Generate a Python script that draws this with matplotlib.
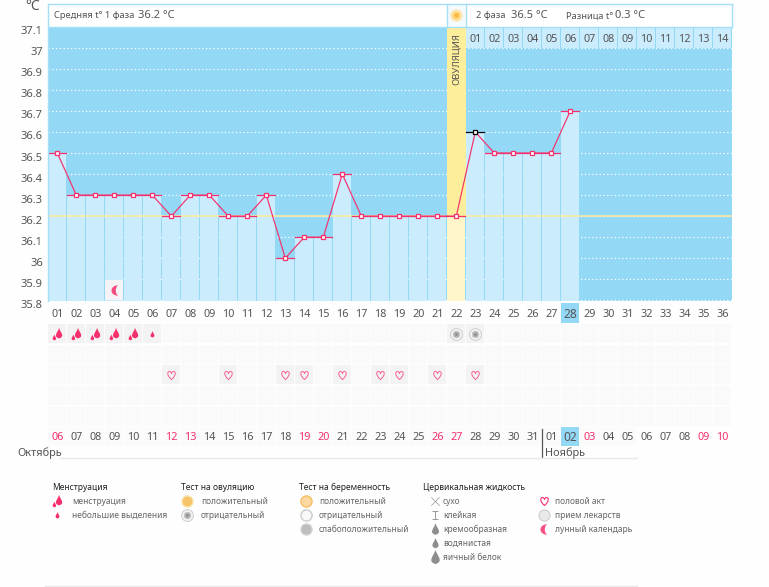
import matplotlib
matplotlib.use('Agg')
import matplotlib.pyplot as plt
from matplotlib.path import Path

plt.rcParams['font.family'] = ['Noto Sans', 'DejaVu Sans']

W, H = 769, 587

# chart data
days = list(range(1, 37))
temps = [36.5, 36.3, 36.3, 36.3, 36.3, 36.3, 36.2, 36.3, 36.3, 36.2,
         36.2, 36.3, 36.0, 36.1, 36.1, 36.4, 36.2, 36.2, 36.2, 36.2,
         36.2, 36.2, 36.6, 36.5, 36.5, 36.5, 36.5, 36.7]
y_ticks = [35.8, 35.9, 36, 36.1, 36.2, 36.3, 36.4, 36.5, 36.6, 36.7, 36.8, 36.9, 37, 37.1]
y_labels = ['35.8', '35.9', '36', '36.1', '36.2', '36.3', '36.4', '36.5', '36.6', '36.7',
            '36.8', '36.9', '37', '37.1']
mean_line = 36.2
ovulation_day = 22
black_day = 23
today = 28
phase2_days = ['01', '02', '03', '04', '05', '06', '07', '08', '09', '10', '11', '12', '13', '14']

dates = ['06', '07', '08', '09', '10', '11', '12', '13', '14', '15', '16', '17', '18', '19', '20',
         '21', '22', '23', '24', '25', '26', '27', '28', '29', '30', '31', '01', '02', '03', '04',
         '05', '06', '07', '08', '09', '10']
red_dates = [1, 7, 8, 14, 15, 21, 22, 29, 35, 36]

big_drop_days = [1, 2, 3, 4, 5]
small_drop_days = [6]
test_days = [22, 23]
heart_days = [7, 10, 13, 14, 16, 18, 19, 21, 23]
moon_days = [4]

BLUE = '#93d8f5'
LIGHT = '#cbecfd'
PINK = '#f5306c'
GREY = '#555555'
YEL = '#fdee9b'
PALEYEL = '#fff6c9'


def pixel_axes(left, top, right, bottom):
    ax = fig.add_axes([left / W, 1 - bottom / H, (right - left) / W, (bottom - top) / H])
    ax.set_xticks([])
    ax.set_yticks([])
    for s in ax.spines.values():
        s.set_visible(False)
    ax.patch.set_alpha(0)
    return ax


def drop(cx=0, cy=0, s=1):
    return [(cx, cy + s), (cx + 0.15 * s, cy + 0.45 * s), (cx + 0.55 * s, cy + 0.1 * s),
            (cx + 0.55 * s, cy - 0.35 * s), (cx + 0.55 * s, cy - 0.75 * s), (cx, cy - 0.85 * s),
            (cx, cy - 0.85 * s), (cx, cy - 0.85 * s), (cx - 0.55 * s, cy - 0.75 * s),
            (cx - 0.55 * s, cy - 0.35 * s), (cx - 0.55 * s, cy + 0.1 * s), (cx - 0.15 * s, cy + 0.45 * s),
            (cx, cy + s)]


def drop_path(parts):
    verts, codes = [], []
    for p in parts:
        v = drop(*p)
        verts += v
        codes += [Path.MOVETO] + [Path.CURVE4] * 12
    return Path(verts, codes)


DROP = drop_path([(0, 0, 1)])
DOUBLE_DROP = drop_path([(0.25, 0.15, 0.9), (-0.5, -0.5, 0.5)])
HEART = Path([(0, -0.9), (-1.1, 0), (-1, 0.9), (-0.45, 0.9), (-0.2, 0.9), (0, 0.65), (0, 0.45),
              (0, 0.65), (0.2, 0.9), (0.45, 0.9), (1, 0.9), (1.1, 0), (0, -0.9)],
             [Path.MOVETO] + [Path.CURVE4] * 12)
MOON = Path([(0.5, 1), (-1.2, 1), (-1.2, -1), (0.5, -1), (-0.1, -0.55), (-0.1, 0.55), (0.5, 1)],
            [Path.MOVETO] + [Path.CURVE4] * 6)
X_MARK = Path([(-1, -1), (1, 1), (-1, 1), (1, -1)], [Path.MOVETO, Path.LINETO, Path.MOVETO, Path.LINETO])
T_MARK = Path([(-0.8, 1), (0.8, 1), (0, 1), (0, -1), (-0.8, -1), (0.8, -1)],
              [Path.MOVETO, Path.LINETO, Path.MOVETO, Path.LINETO, Path.MOVETO, Path.LINETO])


def draw_test(ax, x, y, size=1.0):
    ax.plot(x, y, 'o', ms=8.5 * size, mfc='#f6f6f6', mec='#cdcdcd', mew=0.7, zorder=5)
    ax.plot(x, y, 'o', ms=5 * size, mfc='#b4b4b4', mec='#d0d0d0', mew=0.4, zorder=6)
    ax.plot(x, y, 'o', ms=2 * size, mfc='#8c8c8c', mew=0, zorder=7)


fig = plt.figure(figsize=(W / 100, H / 100), dpi=100, facecolor='#fefefe')

# main chart, x in cycle days, y in degrees
ax = pixel_axes(47.8, 26.8, 731.8, 300.9)
ax.set_xlim(0.5, 36.5)
ax.set_ylim(35.797, 37.1)
ax.patch.set_alpha(1)
ax.patch.set_facecolor(BLUE)
for t in y_ticks[:-1]:
    ax.plot([0.5, 36.5], [t, t], color='white', lw=0.9, ls=(0, (1, 2)), zorder=1)
bar_x = days[:len(temps)]
bar_colors = [PALEYEL if d == ovulation_day else LIGHT for d in bar_x]
ax.bar(bar_x, [t - 35.797 for t in temps], bottom=35.797, width=0.945, color=bar_colors, zorder=2)
ax.bar(ovulation_day, 37.1 - mean_line, bottom=mean_line, width=0.97, color=YEL, zorder=2)
ax.plot([0.5, 36.5], [mean_line, mean_line], color='#fdeb9c', lw=1.1, zorder=3)
for d, t in zip(bar_x, temps):
    ax.plot([d - 0.47, d + 0.47], [t, t], color='black' if d == black_day else PINK, lw=0.9, zorder=4)
ax.plot(bar_x, temps, color=PINK, lw=0.85, zorder=5)
for d, t in zip(bar_x, temps):
    ax.plot(d, t, 's', ms=3.4, mfc='white', mec='black' if d == black_day else PINK, mew=0.9, zorder=6)
for d, lab in zip(days[22:], phase2_days):
    ax.bar(d, 0.1, bottom=37.0, width=0.94, color=LIGHT, zorder=3)
    ax.text(d, 37.04, lab, ha='center', va='center', fontsize=7.8, color=GREY, zorder=4)
ax.text(ovulation_day, 36.945, 'ОВУЛЯЦИЯ', rotation=90, ha='center', va='center', fontsize=6.8, color=GREY, zorder=4)
for d in moon_days:
    ax.bar(d, 0.097, bottom=35.8, width=0.94, color='#f5f3f5', zorder=3)
    ax.plot(d + 0.03, 35.85, marker=MOON, ms=9, color=PINK, mew=0, alpha=0.85, zorder=4)
for t, lab in zip(y_ticks, y_labels):
    ax.annotate(lab, (0.5, t), xytext=(-5, -5), textcoords='offset pixels', ha='right', va='center',
                fontsize=8, color=GREY, annotation_clip=False)

# day numbers under the chart
row = pixel_axes(47.8, 303, 731.8, 323)
row.set_xlim(0.5, 36.5)
row.set_ylim(0, 1)
row.bar(today, 1, width=0.95, color=BLUE)
for d in days:
    row.text(d, 0.44, '%02d' % d, ha='center', va='center', fontsize=8.6 if d == today else 7.8, color=GREY)

# symbols grid, rows counted from the top
grid = pixel_axes(47.8, 323.5, 731.8, 447)
grid.set_xlim(0.5, 36.5)
grid.set_ylim(6, 0)
for r in range(5):
    grid.bar(days, 0.92, bottom=r + 0.04, width=0.94, color='#fbfafb')
grid.bar(days[:31], 0.92, bottom=5.04, width=0.94, color='#fbfbfc')
grid.bar(today, 0.92, bottom=5.04, width=0.95, color=BLUE)
grid.bar(big_drop_days + small_drop_days, 0.92, bottom=0.04, width=0.94, color='#f3f3f3')
grid.bar(test_days, 0.92, bottom=0.04, width=0.94, color='#f3f3f3')
grid.bar(heart_days, 0.92, bottom=2.04, width=0.94, color='#f3f3f3')
grid.plot(big_drop_days, [0.5] * len(big_drop_days), ls='', marker=DOUBLE_DROP, ms=9.5, color=PINK, mew=0)
grid.plot(small_drop_days, [0.5] * len(small_drop_days), ls='', marker=DROP, ms=5, color=PINK, mew=0)
for d in test_days:
    draw_test(grid, d, 0.5)
grid.plot(heart_days, [2.5] * len(heart_days), ls='', marker=HEART, ms=7, mfc='none', mec='#f8608e', mew=0.7)
for d, lab in zip(days, dates):
    grid.text(d, 5.56, lab, ha='center', va='center', fontsize=8.6 if d == today else 7.8,
              color=PINK if d in red_dates else GREY)

# page overlay in pixels: header box, months, legend
page = pixel_axes(0, 0, W, H)
page.set_xlim(0, W)
page.set_ylim(H, 0)
page.fill_between([47.5, 731.5], 3.5, 27, color='white', lw=0)
page.fill_between([447, 465], 3.5, 27, color='#f4fbfe', lw=0)
for x0, x1, y0, y1 in [(47.5, 731.5, 3.5, 3.5), (47.5, 731.5, 27, 27), (47.5, 47.5, 3.5, 301),
                       (731.5, 731.5, 3.5, 27), (447, 447, 3.5, 27), (465.5, 465.5, 3.5, 27)]:
    page.plot([x0, x1], [y0, y1], color='#a4dff7', lw=1)
page.text(40, 7, '°C', ha='right', va='center', fontsize=10, color=GREY)
page.plot(456, 15, 'o', ms=8, mfc='#fdd98a', mec='#fbe9c0', mew=1.3)
page.plot(456, 15, 'o', ms=3.5, mfc='#f9b93f', mew=0)


def head(x, s, size=6.7):
    page.text(x, 16, s, ha='left', va='center', fontsize=size, color=GREY)


head(54.5, 'Средняя t° 1 фаза')
head(138.5, '36.2 °C', 8)
head(476, '2 фаза')
head(511, '36.5 °C', 8)
head(566, 'Разница t°')
head(615, '0.3 °C', 8)

page.text(17, 453, 'Октябрь', ha='left', va='center', fontsize=7.9, color=GREY)
page.text(545, 453, 'Ноябрь', ha='left', va='center', fontsize=7.9, color=GREY)
page.plot([541.5, 541.5], [429, 457], color='#555555', lw=0.9)
page.plot([60, 637], [458, 458], color='#e9e9e9', lw=1)
page.plot([45, 637], [586, 586], color='#e9e9e9', lw=1)

legend_titles = ['Менструация', 'Тест на овуляцию', 'Тест на беременность', 'Цервикальная жидкость']
legend_title_x = [52, 181, 299, 423]
for x, s in zip(legend_title_x, legend_titles):
    page.text(x, 487, s, ha='left', va='center', fontsize=6.1, color='#222222')

legend_rows = [501, 515, 529, 543, 557]
GR = '#8e8e8e'


def item(x, row_i, s):
    page.text(x, legend_rows[row_i], s, ha='left', va='center', fontsize=6.05, color='#666666')


item(72, 0, 'менструация')
item(72, 1, 'небольшие выделения')
page.plot(57, 501, marker=DOUBLE_DROP, ms=9.5, color=PINK, mew=0)
page.plot(57, 515, marker=DROP, ms=5, color=PINK, mew=0)

item(201, 0, 'положительный')
item(201, 1, 'отрицательный')
page.plot(187, 501, 'o', ms=8, mfc='#f6c469', mec='#fbe3b0', mew=1)
draw_test(page, 187, 515)

item(319, 0, 'положительный')
item(319, 1, 'отрицательный')
item(319, 2, 'слабоположительный')
page.plot(306, 501, 'o', ms=8, mfc='#fbd9a0', mec='#f6bf63', mew=1)
page.plot(306, 515, 'o', ms=8, mfc='#f8f8f8', mec='#cccccc', mew=1)
page.plot(306, 529, 'o', ms=8, mfc='#bdbdbd', mec='#d5d5d5', mew=1)

item(443, 0, 'сухо')
item(443, 1, 'клейкая')
item(443, 2, 'кремообразная')
item(443, 3, 'водянистая')
item(443, 4, 'яичный белок')
page.plot(435, 501, marker=X_MARK, ms=6, mec='#999999', mew=0.5, mfc='none')
page.plot(435, 515, marker=T_MARK, ms=6, mec='#999999', mew=0.7, mfc='none')
page.plot(435, 529, marker=DROP, ms=9, color=GR, mew=0)
page.plot(435, 543, marker=DROP, ms=8, color=GR, mew=0)
page.plot(435, 557, marker=DROP, ms=11, color=GR, mew=0)

item(555, 0, 'половой акт')
item(555, 1, 'прием лекарств')
item(555, 2, 'лунный календарь')
page.plot(544, 501, marker=HEART, ms=7, mfc='none', mec=PINK, mew=0.8)
page.plot(544, 515, 'o', ms=8, mfc='#e9e9e9', mec='#cfcfcf', mew=0.8)
page.plot(544, 529, marker=MOON, ms=9, color=PINK, mew=0, alpha=0.85)

fig.savefig('out.png', dpi=100, facecolor=fig.get_facecolor())
